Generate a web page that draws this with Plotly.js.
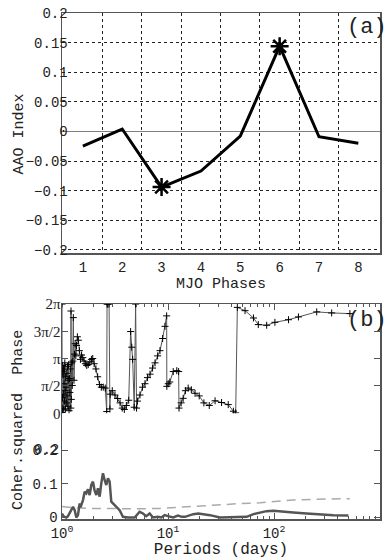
<!DOCTYPE html>
<html>
<head>
<meta charset="utf-8">
<script src="https://cdn.plot.ly/plotly-3.0.1.min.js"></script>
<style>html,body{margin:0;padding:0;background:#fff;}#chart{width:388px;height:559px;}</style>
</head>
<body>
<div id="chart"></div>
<script>
// ---- Panel (a): AAO index composite by MJO phase ----
const mjoPhases = [1, 2, 3, 4, 5, 6, 7, 8];
const aaoIndex = [-0.025, 0.004, -0.094, -0.067, -0.008, 0.144, -0.009, -0.020];
const significant = [false, false, true, false, false, true, false, false];
const aaoTickVals = [-0.2, -0.15, -0.1, -0.05, 0, 0.05, 0.1, 0.15, 0.2];
const aaoTickText = ['\u22120.2', '\u22120.15', '\u22120.1', '\u22120.05', '0', '0.05', '0.1', '0.15', '0.2'];
const mjoTickText = ['1', '2', '3', '4', '5', '6', '7', '8'];

// ---- Panel (b): cross-spectrum phase and squared coherence ----
const phasePeriods = [
  1.000, 1.003, 1.007, 1.011, 1.015, 1.019, 1.024, 1.029, 1.034, 1.039,
  1.045, 1.051, 1.057, 1.063, 1.070, 1.077, 1.084, 1.092, 1.100, 1.108,
  1.117, 1.126, 1.135, 1.145, 1.155, 1.165, 1.176, 1.187, 1.199, 1.211,
  1.216, 1.224, 1.237, 1.250, 1.264, 1.279, 1.297, 1.312, 1.330, 1.350,
  1.372, 1.396, 1.426, 1.458, 1.493, 1.530, 1.570, 1.614, 1.661, 1.712,
  1.768, 1.829, 1.895, 1.950, 2.010, 2.090, 2.170, 2.260, 2.350, 2.450,
  2.560, 2.640, 2.660, 2.700, 2.780, 2.830, 2.850, 2.980, 3.160, 3.350,
  3.530, 3.700, 3.870, 4.050, 4.260, 4.440, 4.550, 4.640, 4.800, 4.950,
  5.050, 5.150, 5.440, 5.750, 6.060, 6.400, 6.770, 7.150, 7.550, 7.980,
  8.400, 8.900, 9.370, 9.710, 9.750, 10.05, 10.40, 11.20, 12.10, 12.60,
  12.70, 13.30, 13.90, 14.60, 15.50, 16.60, 18.00, 19.70, 21.80, 24.50,
  27.80, 32.00, 37.00, 41.40, 43.50, 45.10, 53.30, 64.00, 71.10, 85.30,
  102.0, 137.0, 170.0, 253.0, 350.0, 520.0
];
const phaseValues = [
  6.28, 0.05, 2.40, 0.90, 2.75, 0.30, 2.20, 1.10, 2.60, 0.20,
  1.70, 2.50, 0.70, 2.90, 1.30, 0.25, 2.10, 1.50, 0.60, 2.30,
  1.00, 2.70, 0.40, 1.90, 2.80, 0.15, 2.00, 1.20, 2.55, 0.30,
  5.88, 0.80, 2.90, 1.60, 3.00, 5.50, 1.90, 3.40, 4.00, 3.30,
  3.90, 4.40, 4.20, 3.60, 3.10, 3.35, 3.20, 3.00, 2.85, 2.75,
  2.80, 2.95, 3.10, 3.15, 2.85, 2.55, 2.10, 1.65, 1.50, 1.50,
  1.45, 0.10, 6.28, 6.28, 6.28, 0.25, 1.10, 1.30, 1.05, 0.85,
  0.60, 0.30, 0.22, 0.45, 0.75, 4.70, 3.80, 3.10, 0.35, 6.28,
  0.30, 0.70, 1.05, 1.50, 1.70, 2.05, 2.25, 2.60, 2.90, 3.30,
  3.60, 4.30, 5.00, 5.60, 1.55, 1.70, 1.80, 2.40, 2.45, 2.40,
  0.30, 0.60, 0.86, 1.30, 1.45, 1.35, 1.15, 1.00, 0.60, 0.45,
  0.72, 0.62, 0.50, 0.12, 0.02, 6.09, 5.90, 5.48, 5.10, 5.06,
  5.23, 5.38, 5.54, 5.83, 5.77, 5.73
];

const cohPeriods = [
  1.000, 1.029, 1.060, 1.099, 1.139, 1.181, 1.225, 1.270, 1.317, 1.365,
  1.415, 1.468, 1.495, 1.522, 1.578, 1.636, 1.696, 1.759, 1.823, 1.890,
  1.960, 2.032, 2.107, 2.184, 2.265, 2.348, 2.435, 2.524, 2.617, 2.714,
  2.814, 2.917, 3.025, 3.136, 3.252, 3.371, 3.495, 3.624, 3.757, 4.190,
  4.850, 5.400, 5.810, 6.240, 6.710, 7.220, 8.030, 8.650, 9.300, 10.00,
  11.20, 12.40, 13.50, 14.50, 17.30, 19.30, 24.90, 30.90, 41.40, 55.20,
  64.00, 74.00, 85.00, 98.60, 114.0, 152.0, 203.0, 272.0, 363.0, 503.0
];
const cohValues = [
  0.012, 0.004, 0.002, 0.000, 0.004, 0.012, 0.022, 0.032, 0.022, 0.000,
  0.007, 0.042, 0.030, 0.037, 0.052, 0.077, 0.072, 0.084, 0.067, 0.097,
  0.107, 0.080, 0.067, 0.087, 0.062, 0.102, 0.132, 0.112, 0.097, 0.117,
  0.107, 0.047, 0.042, 0.034, 0.032, 0.027, 0.022, 0.012, 0.002, 0.000,
  0.000, 0.017, 0.012, 0.004, 0.012, 0.000, 0.002, 0.000, 0.007, 0.004,
  0.000, 0.006, 0.002, 0.002, 0.010, 0.012, 0.007, 0.000, 0.000, 0.002,
  0.010, 0.014, 0.019, 0.020, 0.019, 0.015, 0.012, 0.009, 0.007, 0.006
];

const sigPeriods = [1.0, 1.3, 2.0, 3.0, 5.0, 8.4, 15.0, 25.0, 45.0, 74.0, 150.0, 300.0, 520.0];
const sigLevel = [0.033, 0.029, 0.027, 0.026, 0.026, 0.027, 0.032, 0.037, 0.041, 0.044, 0.052, 0.055, 0.056];

const logTickVals = [1, 10, 100, 1000];
const logTickText = ['10<sup>0</sup>', '10<sup>1</sup>', '10<sup>2</sup>', '10<sup>3</sup>'];
const cohTickVals = [0, 0.1, 0.2];
const cohTickText = ['0', '0.1', '0.2'];
const phaseTickVals = [0, Math.PI / 2, Math.PI, 3 * Math.PI / 2, 2 * Math.PI];
const phaseTickText = ['0', '\u03c0/2', '\u03c0', '3\u03c0/2', '2\u03c0'];
const gridPositions = [1.5, 2.5, 3.5, 4.5, 5.5, 6.5, 7.5];

const FONT = 'Liberation Mono, Courier New, monospace';
const SERIF = 'Liberation Serif, Times New Roman, serif';
const AX = '#555';

const sigX = mjoPhases.filter((p, i) => significant[i]);
const sigY = aaoIndex.filter((v, i) => significant[i]);

const traces = [
  {x: mjoPhases, y: aaoIndex, xaxis: 'x', yaxis: 'y', mode: 'lines',
   line: {color: '#000', width: 3}, hoverinfo: 'x+y'},
  {x: sigX, y: sigY, xaxis: 'x', yaxis: 'y', mode: 'markers',
   marker: {symbol: 'asterisk-open', size: 15, color: '#000', line: {color: '#000', width: 2.5}}},
  {x: sigPeriods, y: sigLevel, xaxis: 'x2', yaxis: 'y2', mode: 'lines',
   line: {color: '#aaa', width: 1.5, dash: '9px,6px'}},
  {x: cohPeriods, y: cohValues, xaxis: 'x2', yaxis: 'y2', mode: 'lines',
   line: {color: '#555', width: 2.5}},
  {x: phasePeriods, y: phaseValues, xaxis: 'x2', yaxis: 'y3', mode: 'lines+markers',
   line: {color: '#555', width: 1},
   marker: {symbol: 'cross-thin-open', size: 5, color: '#000', line: {color: '#000', width: 1}}},
  {x: [1], y: [0], xaxis: 'x3', yaxis: 'y3', mode: 'markers', marker: {opacity: 0}, hoverinfo: 'skip'}
];

const tickFont = {family: FONT, size: 14, color: '#222'};

const layout = {
  width: 388, height: 559,
  margin: {l: 62, r: 8, t: 13, b: 40},
  paper_bgcolor: '#fff', plot_bgcolor: '#fff',
  showlegend: false,
  font: {family: FONT, color: '#222'},
  xaxis: {
    domain: [0, 1], anchor: 'y', range: [0.47, 8.55],
    tickmode: 'array', tickvals: mjoPhases, ticktext: mjoTickText,
    ticks: '', showgrid: false, zeroline: false,
    showline: true, mirror: true, linecolor: AX, linewidth: 1.5,
    tickfont: tickFont,
    minor: {tickmode: 'array', tickvals: gridPositions,
            showgrid: true, gridcolor: '#222', gridwidth: 1, griddash: 'dot', ticks: ''},
    title: {text: 'MJO Phases', font: {family: FONT, size: 15, color: '#222'}, standoff: 3}
  },
  yaxis: {
    domain: [0.525, 1], anchor: 'x', range: [-0.206, 0.2],
    tickmode: 'array', tickvals: aaoTickVals, ticktext: aaoTickText,
    ticks: '', showgrid: true, gridcolor: '#222', gridwidth: 1, griddash: 'dot',
    zeroline: true, zerolinecolor: '#808080', zerolinewidth: 1.5,
    showline: true, mirror: true, linecolor: AX, linewidth: 1.5,
    tickfont: tickFont, ticklabelstandoff: -10
  },
  xaxis2: {
    domain: [0, 1], anchor: 'y2', type: 'log', range: [0, 3],
    tickmode: 'array', tickvals: logTickVals, ticktext: logTickText,
    ticks: 'inside', ticklen: 6, tickcolor: AX,
    minor: {dtick: 'D1', ticks: 'inside', ticklen: 3, tickcolor: AX, showgrid: false},
    showgrid: false, zeroline: false,
    showline: true, linecolor: AX, linewidth: 2,
    tickfont: {family: FONT, size: 14, color: '#222'},
    title: {text: 'Periods (days)', font: {family: FONT, size: 16, color: '#222'}, standoff: 0}
  },
  xaxis3: {
    overlaying: 'x2', anchor: 'y3', side: 'top', type: 'log', range: [0, 3],
    tickmode: 'array', tickvals: logTickVals, ticks: 'inside', ticklen: 6, tickcolor: AX,
    minor: {dtick: 'D1', ticks: 'inside', ticklen: 3, tickcolor: AX, showgrid: false},
    showticklabels: false, showgrid: false, zeroline: false,
    showline: true, linecolor: AX, linewidth: 1.5
  },
  yaxis2: {
    domain: [0, 0.2089], anchor: 'x2', range: [-0.0045, 0.311],
    tickmode: 'array', tickvals: cohTickVals, ticktext: cohTickText,
    ticks: 'inside', ticklen: 6, tickcolor: AX,
    showgrid: false, zeroline: false,
    showline: true, mirror: 'ticks', linecolor: AX, linewidth: 1.5,
    tickfont: tickFont, ticklabelstandoff: 0
  },
  yaxis3: {
    domain: [0.2089, 0.4249], anchor: 'x2', range: [0, 2 * Math.PI],
    tickmode: 'array', tickvals: phaseTickVals, ticktext: phaseTickText,
    ticks: 'inside', ticklen: 6, tickcolor: AX,
    showgrid: false, zeroline: false,
    showline: true, mirror: 'ticks', linecolor: AX, linewidth: 1.5,
    tickfont: {family: SERIF, size: 15, color: '#222'}, ticklabelstandoff: -3
  },
  annotations: [
    {text: 'AAO Index', xref: 'paper', yref: 'paper', x: -0.135, y: 0.76,
     xanchor: 'center', yanchor: 'middle', textangle: -90, showarrow: false,
     font: {family: FONT, size: 15, color: '#222'}},
    {text: '(a)', xref: 'paper', yref: 'paper', x: 1.027, y: 0.972,
     xanchor: 'right', yanchor: 'middle', showarrow: false,
     font: {family: FONT, size: 22, color: '#222'}},
    {text: '(b)', xref: 'paper', yref: 'paper', x: 1.027, y: 0.392,
     xanchor: 'right', yanchor: 'middle', showarrow: false,
     font: {family: FONT, size: 22, color: '#222'}},
    {text: 'Coher.squared\u00a0\u00a0Phase', xref: 'paper', yref: 'paper', x: -0.135, y: 0.196,
     xanchor: 'center', yanchor: 'middle', textangle: -90, showarrow: false,
     font: {family: FONT, size: 15, color: '#222'}},
    {text: cohTickText[2], xref: 'paper', yref: 'y2', x: -0.004, y: cohTickVals[2],
     xanchor: 'right', yanchor: 'middle', showarrow: false, font: tickFont}
  ]
};

Plotly.newPlot('chart', traces, layout, {displayModeBar: false, staticPlot: true});
</script>
</body>
</html>
